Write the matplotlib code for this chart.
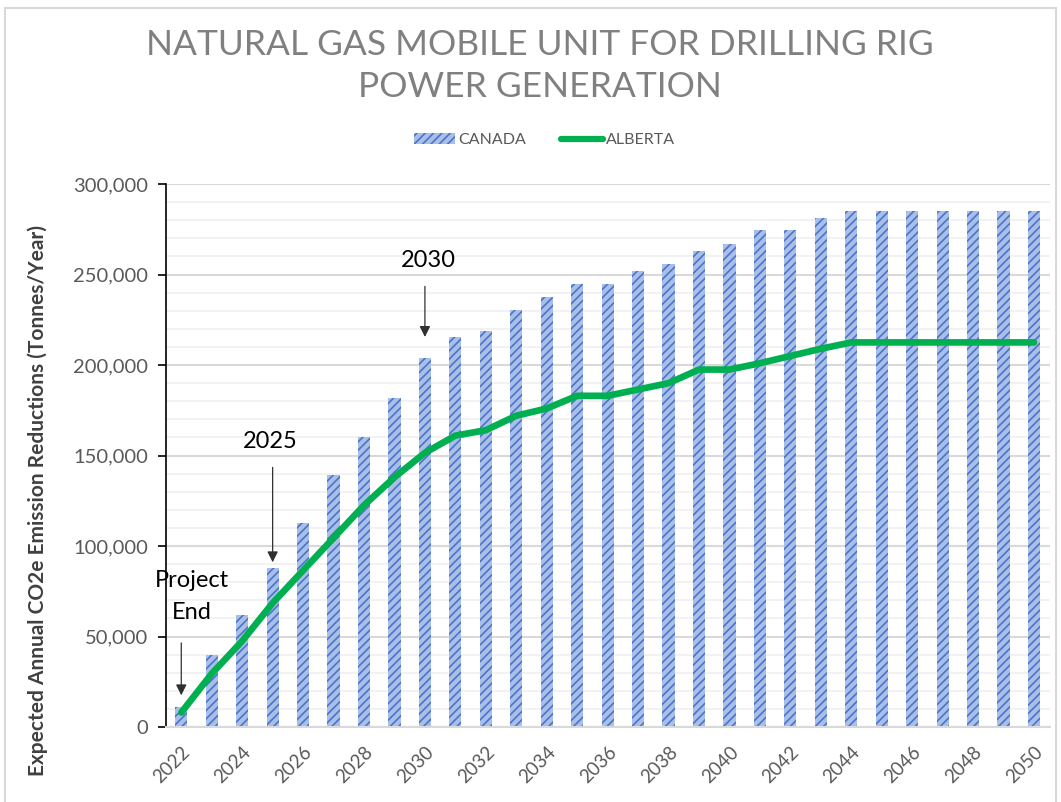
import matplotlib
matplotlib.use("Agg")
import matplotlib.pyplot as plt
from matplotlib.patches import Rectangle
from matplotlib.lines import Line2D
from matplotlib.ticker import MultipleLocator, FuncFormatter
import numpy as np

# Data
years = list(range(2022, 2051))
canada = [11000, 40000, 62000, 88000, 113000, 139000, 160000, 182000, 204000,
          215500, 219000, 230500, 237500, 245000, 245000, 252000, 256000,
          263000, 267000, 274500, 274500, 281500, 285000, 285000, 285000,
          285000, 285000, 285000, 285000]
alberta = [8000, 29500, 47500, 68500, 86500, 104500, 122500, 138000, 151500,
           161000, 164000, 172000, 176000, 183000, 183000, 186500, 190000,
           197500, 197500, 201000, 205000, 209000, 212500, 212500, 212500,
           212500, 212500, 212500, 212500]
x_labels = [str(y) if y % 2 == 0 else "" for y in years]

plt.rcParams["font.family"] = ["Lato", "DejaVu Sans"]
plt.rcParams["hatch.linewidth"] = 1.2

fig = plt.figure(figsize=(10.61, 8.02), dpi=100)
ax = fig.add_axes([0.1565, 0.0935, 0.833, 0.677])

x = np.arange(len(years))
ax.bar(x, canada, width=0.4, color="#a9bfe8", edgecolor="#4a74cc",
       hatch="////", linewidth=0, zorder=2, label="CANADA")
ax.plot(x, alberta, color="#00b050", linewidth=4.8, solid_capstyle="round",
        zorder=3, label="ALBERTA")

ax.set_xlim(-0.5, 28.52)
ax.set_ylim(0, 300000)
ax.yaxis.set_major_locator(MultipleLocator(50000))
ax.yaxis.set_minor_locator(MultipleLocator(10000))
ax.yaxis.set_major_formatter(FuncFormatter(lambda v, p: f"{int(v):,}"))
ax.grid(axis="y", which="major", color="#d9d9d9", linewidth=1.5, zorder=0)
ax.grid(axis="y", which="minor", color="#f0f0f0", linewidth=1.2, zorder=0)
ax.set_axisbelow(True)

ax.set_xticks(x)
ax.set_xticklabels(x_labels, rotation=45, ha="right", rotation_mode="anchor",
                   fontsize=13.5, color="#595959")
ax.tick_params(axis="x", length=0, pad=12)
ax.tick_params(axis="y", which="major", length=6, width=1.2, colors="black",
               labelcolor="#595959", labelsize=14.5, pad=7)
ax.tick_params(axis="y", which="minor", length=0)

for s in ["top", "right"]:
    ax.spines[s].set_visible(False)
ax.spines["left"].set_color("black")
ax.spines["left"].set_linewidth(1.2)
ax.spines["bottom"].set_color("#d9d9d9")
ax.spines["bottom"].set_linewidth(1.5)

ax.set_ylabel("Expected Annual CO2e Emission Reductions (Tonnes/Year)",
              fontsize=15, fontweight="bold", color="#404040")
ax.yaxis.set_label_coords(-0.134, 0.418)

# Title
fig.text(0.509, 0.944, "NATURAL GAS MOBILE UNIT FOR DRILLING RIG",
         ha="center", va="center", fontsize=25.5, color="#808080")
fig.text(0.509, 0.891, "POWER GENERATION",
         ha="center", va="center", fontsize=25.5, color="#808080")

# Legend
handles = [Rectangle((0, 0), 1, 1, facecolor="#a9bfe8", edgecolor="#4a74cc",
                     hatch="////", linewidth=0),
           Line2D([], [], color="#00b050", linewidth=4.5,
                  solid_capstyle="round")]
fig.legend(handles, ["CANADA", "ALBERTA"], loc="center",
           bbox_to_anchor=(0.513, 0.825), ncol=2, frameon=False,
           fontsize=11.5, labelcolor="#595959", handlelength=2.6,
           handletextpad=0.2, columnspacing=2.2)

# Annotations
arrow = dict(arrowstyle="-|>", color="#303030", lw=0.9, mutation_scale=16)
ax.annotate("", xy=(0, 16000), xytext=(0, 48000), arrowprops=arrow)
ax.text(0.36, 81000, "Project", ha="center", va="center", fontsize=17)
ax.text(0.36, 63000, "End", ha="center", va="center", fontsize=17)
ax.annotate("", xy=(3, 89500), xytext=(3, 145000), arrowprops=arrow)
ax.text(2.93, 157500, "2025", ha="center", va="center", fontsize=17)
ax.annotate("", xy=(8, 214000), xytext=(8, 245000), arrowprops=arrow)
ax.text(8.1, 257500, "2030", ha="center", va="center", fontsize=17)

# Chart area border
fig.patches.append(Rectangle((5 / 1061, -0.01), 1051 / 1061, 0.005 + 798 / 802,
                             transform=fig.transFigure, fill=False,
                             edgecolor="#d9d9d9", linewidth=1.5))

fig.savefig("out.png", dpi=100)
